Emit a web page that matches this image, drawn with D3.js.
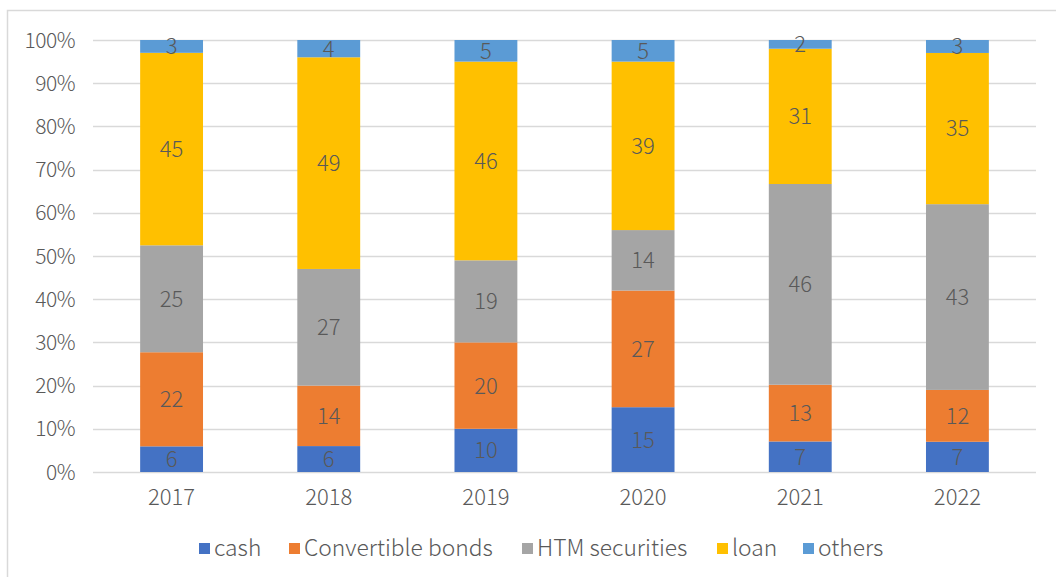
<!DOCTYPE html>
<html>
<head>
<meta charset="utf-8">
<script src="https://cdn.jsdelivr.net/npm/d3@7"></script>
<style>
  html, body { margin: 0; padding: 0; background: #fff; }
  svg { display: block; }
  text { font-family: "Noto Sans CJK SC", "Noto Sans", sans-serif; font-weight: 300; fill: #595959; }
</style>
</head>
<body>
<svg id="chart" width="1056" height="577"></svg>
<script>
// Asset mix by year (raw shares; each column is normalised to 100%)
const years = ["2017", "2018", "2019", "2020", "2021", "2022"];
const seriesNames = ["cash", "Convertible bonds", "HTM securities", "loan", "others"];
const cash        = [6, 6, 10, 15, 7, 7];
const convertible = [22, 14, 20, 27, 13, 12];
const htm         = [25, 27, 19, 14, 46, 43];
const loan        = [45, 49, 46, 39, 31, 35];
const others      = [3, 4, 5, 5, 2, 3];
const yTicks      = [0, 0.1, 0.2, 0.3, 0.4, 0.5, 0.6, 0.7, 0.8, 0.9, 1.0];
const colors      = ["#4472C4", "#ED7D31", "#A5A5A5", "#FFC000", "#5B9BD5"];

const seriesValues = [cash, convertible, htm, loan, others];
const keys = ["cash", "conv", "htm", "loan", "others"];

const rows = years.map((y, i) => {
  const r = { year: y };
  keys.forEach((k, j) => { r[k] = seriesValues[j][i]; });
  return r;
});

const stack = d3.stack().keys(keys).offset(d3.stackOffsetExpand);
const layers = stack(rows);

const svg = d3.select("#chart");

// chart frame
svg.append("rect")
  .attr("x", 7.5).attr("y", 10.5)
  .attr("width", 1100).attr("height", 600)
  .attr("fill", "none").attr("stroke", "#D9D9D9").attr("stroke-width", 1.5);

const x = d3.scaleBand().domain(years).range([93, 1036]).paddingInner(0.6).paddingOuter(0.3);
const y = d3.scaleLinear().domain([0, 1]).range([472, 40]);

// gridlines
svg.append("g").selectAll("line").data(yTicks).join("line")
  .attr("x1", 93).attr("x2", 1036)
  .attr("y1", d => Math.round(y(d)) + 0.5).attr("y2", d => Math.round(y(d)) + 0.5)
  .attr("stroke", "#D9D9D9").attr("stroke-width", 1.3);

// y tick labels
svg.append("g").selectAll("text").data(yTicks).join("text")
  .attr("x", 75).attr("y", d => y(d))
  .attr("dy", "0.36em")
  .attr("text-anchor", "end")
  .attr("font-size", 21)
  .attr("letter-spacing", -0.5)
  .text(d => d3.format(".0%")(d));

// x tick labels
svg.append("g").selectAll("text").data(years).join("text")
  .attr("x", d => x(d) + x.bandwidth() / 2).attr("y", 497)
  .attr("dy", "0.36em")
  .attr("text-anchor", "middle")
  .attr("font-size", 22)
  .text(d => d);

// bars
const groups = svg.append("g").selectAll("g").data(layers).join("g")
  .attr("fill", (d, i) => colors[i]);

groups.selectAll("rect").data(d => d).join("rect")
  .attr("x", d => x(d.data.year))
  .attr("width", x.bandwidth())
  .attr("y", d => y(d[1]))
  .attr("height", d => y(d[0]) - y(d[1]));

// value labels
const labelLayer = svg.append("g");
layers.forEach((layer, i) => {
  labelLayer.selectAll(null).data(layer).join("text")
    .attr("x", d => x(d.data.year) + x.bandwidth() / 2)
    .attr("y", d => (y(d[0]) + y(d[1])) / 2)
    .attr("dy", "0.36em")
    .attr("text-anchor", "middle")
    .attr("font-size", 22)
    .attr("fill", "#404040")
    .text(d => d.data[keys[i]]);
});

// legend
const legendX = [199, 289, 522, 717, 803];
const legend = svg.append("g");
seriesNames.forEach((name, i) => {
  legend.append("rect")
    .attr("x", legendX[i]).attr("y", 543)
    .attr("width", 11).attr("height", 11)
    .attr("fill", colors[i]);
  legend.append("text")
    .attr("x", legendX[i] + 15).attr("y", 548)
    .attr("dy", "0.36em")
    .attr("font-size", 22.8)
    .text(name);
});
</script>
</body>
</html>
